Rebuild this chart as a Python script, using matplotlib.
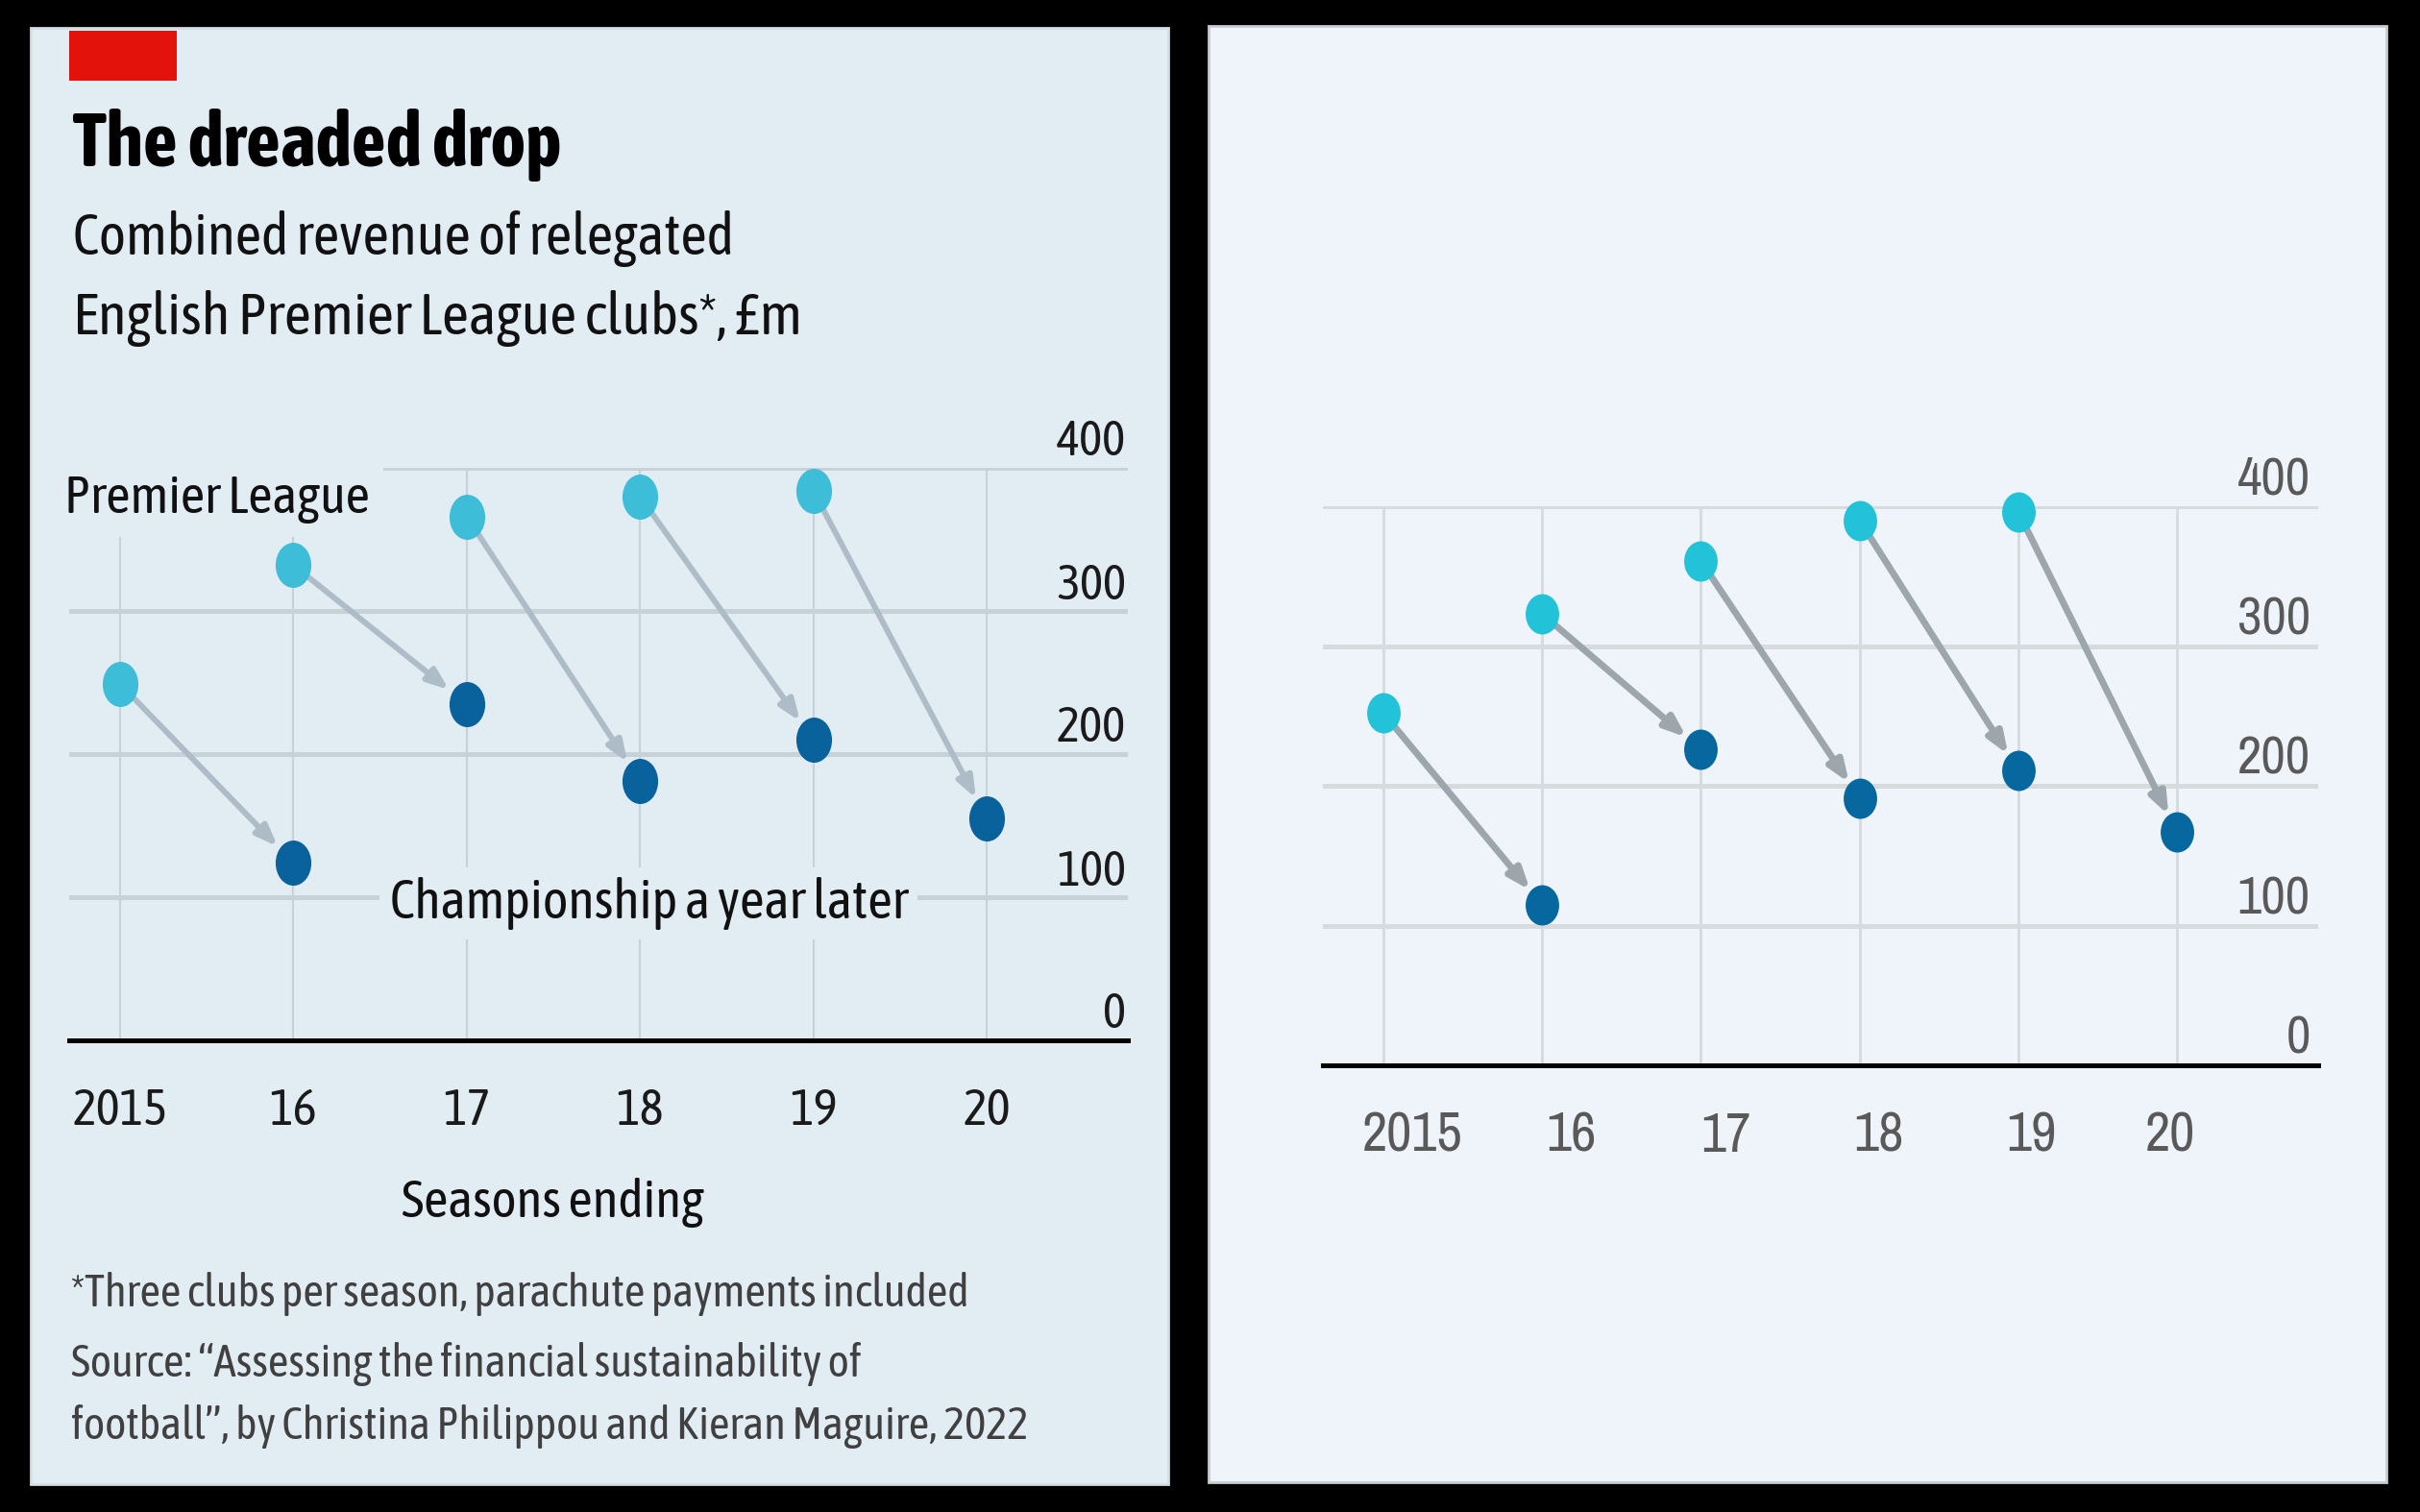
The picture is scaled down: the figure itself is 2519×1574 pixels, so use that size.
import matplotlib
matplotlib.use("Agg")
import matplotlib.pyplot as plt
from matplotlib.patches import Rectangle
from matplotlib.path import Path
from matplotlib.transforms import Affine2D

# canvas size in pixels (dpi 100)
W, H = 2519, 1574

years = [2015, 2016, 2017, 2018, 2019, 2020]
year_labels = ["2015", "16", "17", "18", "19", "20"]
y_ticks = [0, 100, 200, 300, 400]

# season a club was relegated (Premier League) and the year after (Championship)
pl_years = [2015, 2016, 2017, 2018, 2019]
ch_years = [2016, 2017, 2018, 2019, 2020]

# left panel: the original chart, £m
left_pl = [249, 332, 366, 380, 384]
left_ch = [124, 235, 181, 210, 155]

# right panel: the redrawn version
right_pl = [252, 323, 361, 390, 396]
right_ch = [115, 226, 191, 211, 167]

LEFT_BG = "#e2ecf3"
RIGHT_BG = "#eef4f9"
LEFT_FONT = ["Asap Condensed", "Archivo Narrow", "DejaVu Sans"]
RIGHT_FONT = ["Archivo Narrow", "DejaVu Sans"]

plt.rcParams["font.family"] = LEFT_FONT


def box(x0, y0, x1, y1):
    # pixel box (top-left origin) -> figure fraction rect
    return [x0 / W, 1 - y1 / H, (x1 - x0) / W, (y1 - y0) / H]


def ftext(x, y, s, **kw):
    return fig.text(x / W, 1 - y / H, s, **kw)


def fit_width(texts, px):
    # scale the font so that the first text is px pixels wide, same size for the rest
    r = fig.canvas.get_renderer()
    w = texts[0].get_window_extent(renderer=r).width
    size = texts[0].get_fontsize() * px / w
    for t in texts:
        t.set_fontsize(size)


def panel(x0, y0, x1, y1, color, edge):
    r = Rectangle((x0 / W, 1 - y1 / H), (x1 - x0) / W, (y1 - y0) / H,
                  transform=fig.transFigure, facecolor=color,
                  edgecolor=edge, linewidth=2, zorder=-1)
    fig.add_artist(r)


def draw_chart(ax, pl, ch, xlim, light, dark, arrow_col, grid_col, text_col, family,
               marker_s, aspect, arrow_lw, shrink_b, ylab_dx, xlab_dx, hgrid_lw, vgrid_lw):
    ax.set_facecolor("none")
    ax.set_xlim(*xlim)
    ax.set_ylim(0, 400)
    ax.set_xticks(years)
    ax.set_yticks(y_ticks)
    ax.tick_params(length=0, labelbottom=False, labelleft=False)
    for side in ["top", "left", "right"]:
        ax.spines[side].set_visible(False)
    ax.spines["bottom"].set_linewidth(3.6)
    ax.spines["bottom"].set_color("black")
    ax.spines["bottom"].set_zorder(2)
    ax.grid(axis="y", color=grid_col, linewidth=hgrid_lw, zorder=0)
    ax.grid(axis="x", color=grid_col, linewidth=vgrid_lw, zorder=0)
    ax.set_axisbelow(True)

    oval = Path.unit_circle().transformed(Affine2D().scale(aspect, 1.0))

    for x0, y0, x1, y1 in zip(pl_years, pl, ch_years, ch):
        ax.annotate("", xy=(x1, y1), xytext=(x0, y0),
                    arrowprops=dict(arrowstyle="-|>,head_length=0.65,head_width=0.25",
                                    color=arrow_col, lw=arrow_lw, shrinkA=0,
                                    shrinkB=shrink_b, mutation_scale=20),
                    zorder=3)
    ax.scatter(pl_years, pl, s=marker_s, marker=oval, color=light,
               linewidths=0, zorder=5, clip_on=False)
    ax.scatter(ch_years, ch, s=marker_s, marker=oval, color=dark,
               linewidths=0, zorder=5, clip_on=False)

    ylabs = []
    for v in y_ticks[::-1]:
        ylabs.append(ax.annotate(str(v), xy=(1, v), xycoords=("axes fraction", "data"),
                                 xytext=(ylab_dx, 9), textcoords="offset points",
                                 ha="right", va="baseline", fontsize=39,
                                 color=text_col, family=family))
    xlabs = []
    for yr, lbl, dx in zip(years, year_labels, xlab_dx):
        xlabs.append(ax.annotate(lbl, xy=(yr, 0), xycoords="data",
                                 xytext=(dx, -53), textcoords="offset points",
                                 ha="center", va="center", fontsize=40,
                                 color=text_col, family=family,
                                 annotation_clip=False))
    return ylabs, xlabs


fig = plt.figure(figsize=(W / 100, H / 100), dpi=100)
fig.patch.set_facecolor("black")

panel(32, 29, 1216, 1545, LEFT_BG, "#d3dde4")
panel(1258, 27, 2484, 1543, RIGHT_BG, "#c9ccce")

# ---- left panel: original ----
fig.add_artist(Rectangle((72 / W, 1 - 84 / H), 112 / W, 52 / H,
                         transform=fig.transFigure, facecolor="#e3120b",
                         edgecolor="none", zorder=1))
title = ftext(76, 173, "The dreaded drop", fontsize=53, fontweight="bold",
              color="black", va="baseline")
sub1 = ftext(76, 265, "Combined revenue of relegated", fontsize=43,
             color="#111111", va="baseline")
sub2 = ftext(76, 348, "English Premier League clubs*, £m", fontsize=43,
             color="#111111", va="baseline")

axl = fig.add_axes(box(72, 487, 1174, 1083))
l_ylabs, l_xlabs = draw_chart(
    axl, left_pl, left_ch, (2014.706, 2020.815),
    light="#3dbdd8", dark="#0a629c", arrow_col="#adbcc6",
    grid_col="#c6d1d8", text_col="#1a1a1a", family=LEFT_FONT, marker_s=1145,
    aspect=0.79, arrow_lw=4.3, shrink_b=17, ylab_dx=-1.5,
    xlab_dx=[0, 0, 0, 0, 0, 0], hgrid_lw=3.6, vgrid_lw=1.5)

pl_lab = axl.text(2014.68, 368.5, "Premier League", fontsize=39, color="#111111",
                  ha="left", va="baseline", zorder=4,
                  bbox=dict(boxstyle="square,pad=0.25", facecolor=LEFT_BG, edgecolor="none"))
ch_lab = axl.text(2018.05, 85, "Championship a year later", fontsize=40.5,
                  color="#111111", ha="center", va="baseline", zorder=4,
                  bbox=dict(boxstyle="square,pad=0.18", facecolor=LEFT_BG, edgecolor="none"))

xtitle = ftext(575, 1267, "Seasons ending", fontsize=38.5, color="#111111",
               ha="center", va="baseline")
note1 = ftext(74, 1360, "*Three clubs per season, parachute payments included",
              fontsize=33.5, color="#404040", va="baseline")
note2 = ftext(74, 1433, "Source: \u201cAssessing the financial sustainability of",
              fontsize=33.5, color="#404040", va="baseline")
note3 = ftext(74, 1498, "football\u201d, by Christina Philippou and Kieran Maguire, 2022",
              fontsize=33.5, color="#404040", va="baseline")

# ---- right panel: redrawn ----
axr = fig.add_axes(box(1377, 527, 2413, 1109))
r_ylabs, r_xlabs = draw_chart(
    axr, right_pl, right_ch, (2014.619, 2020.890),
    light="#22c3d9", dark="#07679f", arrow_col="#9da6ad",
    grid_col="#d8dbde", text_col="#595959", family=RIGHT_FONT, marker_s=914,
    aspect=0.83, arrow_lw=5.0, shrink_b=14, ylab_dx=-6,
    xlab_dx=[22, 21.5, 19, 14.5, 10, -5], hgrid_lw=3.6, vgrid_lw=2.2)

# widths measured on the reference, in pixels
fit_width([title], 509)
fit_width([sub1], 688)
fit_width([sub2], 760)
fit_width([pl_lab], 318)
fit_width([ch_lab], 539)
fit_width([xtitle], 315)
fit_width([note1, note2, note3], 935)
fit_width(l_xlabs, 99)
fit_width(l_ylabs, 72)
fit_width(r_xlabs, 105)
fit_width(r_ylabs, 76)

fig.savefig("out.png", dpi=100, facecolor=fig.get_facecolor())
